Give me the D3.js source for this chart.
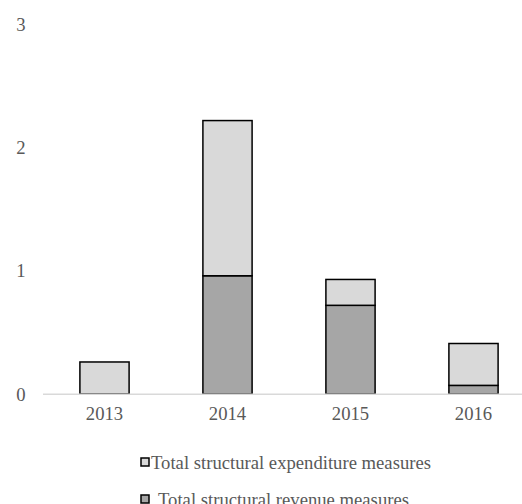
<!DOCTYPE html>
<html>
<head>
<meta charset="utf-8">
<script src="https://cdn.jsdelivr.net/npm/d3@7"></script>
<style>
  body { margin: 0; background: #fff; }
  text { font-family: "Liberation Serif", "Times New Roman", serif; fill: #595959; font-size: 18.67px; }
</style>
</head>
<body>
<div id="chart"></div>
<script>
// data
var years = ["2013", "2014", "2015", "2016"];
var revenue = [0, 0.96, 0.72, 0.07];
var expenditure = [0.26, 1.26, 0.21, 0.34];
var yTicks = [0, 1, 2, 3];
var seriesNames = ["Total structural expenditure measures", "Total structural revenue measures"];

var width = 522, height = 504;
var svg = d3.select("#chart").append("svg").attr("width", width).attr("height", height);

var x = d3.scaleBand().domain(years).range([43, 535]).paddingInner(0.6).paddingOuter(0.3);
var y = d3.scaleLinear().domain([0, 3]).range([394, 24.5]);

// y tick labels, no axis line
svg.selectAll(".ylab").data(yTicks).enter().append("text")
    .attr("x", 21).attr("y", d => y(d)).attr("dy", "0.35em")
    .attr("text-anchor", "middle").text(d => d);

var rows = years.map((yr, i) => ({ year: yr, rev: revenue[i], exp: expenditure[i] }));

// revenue bars (bottom)
svg.selectAll(".rev").data(rows.filter(d => d.rev > 0)).enter().append("rect")
    .attr("x", d => x(d.year)).attr("width", x.bandwidth())
    .attr("y", d => y(d.rev)).attr("height", d => y(0) - y(d.rev))
    .attr("fill", "#a6a6a6").attr("stroke", "#000").attr("stroke-width", 1.5);

// expenditure stacked on top
svg.selectAll(".exp").data(rows).enter().append("rect")
    .attr("x", d => x(d.year)).attr("width", x.bandwidth())
    .attr("y", d => y(d.rev + d.exp)).attr("height", d => y(d.rev) - y(d.rev + d.exp))
    .attr("fill", "#d9d9d9").attr("stroke", "#000").attr("stroke-width", 1.5);

// baseline drawn over the bar bottoms
svg.append("line").attr("x1", 43).attr("x2", width).attr("y1", y(0) + 0.3).attr("y2", y(0) + 0.3)
    .attr("stroke", "#d9d9d9").attr("stroke-width", 1.5);

// x labels
svg.selectAll(".xlab").data(years).enter().append("text")
    .attr("x", d => x(d) + x.bandwidth() / 2).attr("y", 420)
    .attr("text-anchor", "middle").text(d => d);

// legend
var legend = [
  { name: seriesNames[0], color: "#d9d9d9", sy: 458, by: 469, tx: 151 },
  { name: seriesNames[1], color: "#a6a6a6", sy: 495, by: 506, tx: 158 }
];
var lg = svg.selectAll(".lg").data(legend).enter().append("g");
lg.append("rect").attr("x", 141).attr("y", d => d.sy).attr("width", 8).attr("height", 8)
    .attr("fill", d => d.color).attr("stroke", "#000").attr("stroke-width", 1.5);
lg.append("text").attr("x", d => d.tx).attr("y", d => d.by).text(d => d.name);
</script>
</body>
</html>
